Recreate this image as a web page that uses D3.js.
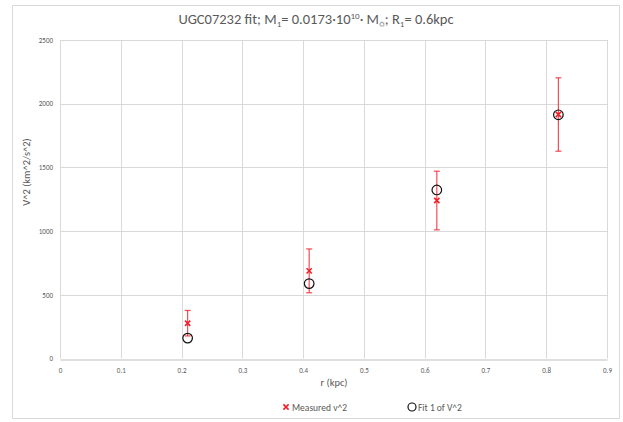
<!DOCTYPE html>
<html><head><meta charset="utf-8">
<script src="https://cdn.jsdelivr.net/npm/d3@7"></script>
<style>body{margin:0;background:#fff;} text{font-family:Calibri,Carlito,Lato,"Open Sans",sans-serif;}</style>
</head><body><svg id="c" width="623" height="422"></svg>
<script>
const radii = [0.21, 0.41, 0.62, 0.82];
const measured = [277, 688, 1240, 1915];
const measuredErr = [100, 172, 230, 288];
const fit = [160, 588, 1323, 1913];
const xTicks = [0, 0.1, 0.2, 0.3, 0.4, 0.5, 0.6, 0.7, 0.8, 0.9];
const yTicks = [0, 500, 1000, 1500, 2000, 2500];

const svg = d3.select("#c");
svg.append("rect").attr("x", 12.5).attr("y", 5.5).attr("width", 607).attr("height", 413)
  .attr("fill", "#fff").attr("stroke", "#d9d9d9");

const x = d3.scaleLinear().domain([0, 0.9]).range([60, 607]);
const y = d3.scaleLinear().domain([0, 2500]).range([358.5, 40]);

// gridlines
svg.append("g").selectAll("line").data(xTicks).join("line")
  .attr("x1", d => Math.round(x(d)) + 0.5).attr("x2", d => Math.round(x(d)) + 0.5)
  .attr("y1", y(2500)).attr("y2", y(0)).attr("stroke", "#d9d9d9");
svg.append("g").selectAll("line").data(yTicks.filter(d => d > 0)).join("line")
  .attr("x1", x(0)).attr("x2", x(0.9))
  .attr("y1", d => Math.round(y(d)) + 0.5).attr("y2", d => Math.round(y(d)) + 0.5).attr("stroke", "#d9d9d9");

const xAxis = svg.append("g").attr("transform", `translate(0,${Math.round(y(0)) + 0.5})`)
  .call(d3.axisBottom(x).tickValues(xTicks).tickSize(0).tickPadding(9).tickFormat(d => d3.format("")(d)));
xAxis.select(".domain").attr("stroke", "#bfbfbf");
xAxis.selectAll("text").attr("fill", "#595959").attr("font-size", 7);

const yAxis = svg.append("g").attr("transform", `translate(${x(0)},0)`)
  .call(d3.axisLeft(y).tickValues(yTicks).tickSize(0).tickPadding(7).tickFormat(d3.format("d")));
yAxis.select(".domain").remove();
yAxis.selectAll("text").attr("fill", "#595959").attr("font-size", 7);

// title
const title = svg.append("text").attr("x", 316).attr("y", 24).attr("text-anchor", "middle")
  .attr("fill", "#595959").attr("font-size", 14.5);
title.append("tspan").text("UGC07232 fit; M");
title.append("tspan").attr("font-size", 9).attr("dy", 3).text("1");
title.append("tspan").attr("dy", -3).text("= 0.0173·10");
title.append("tspan").attr("font-size", 9).attr("dy", -5).text("10");
title.append("tspan").attr("dy", 5).text("· M");
title.append("tspan").attr("font-size", 8).attr("dy", 3).text("☼");
title.append("tspan").attr("dy", -3).text("; R");
title.append("tspan").attr("font-size", 9).attr("dy", 3).text("1");
title.append("tspan").attr("dy", -3).text("= 0.6kpc");

// axis titles
svg.append("text").attr("x", 334).attr("y", 386).attr("text-anchor", "middle")
  .attr("fill", "#595959").attr("font-size", 10.5).text("r (kpc)");
svg.append("text").attr("transform", "translate(30,172) rotate(-90)").attr("text-anchor", "middle")
  .attr("fill", "#595959").attr("font-size", 10.5).text("V^2 (km^2/s^2)");

const red = "#f0202a";
// error bars
const eb = svg.append("g").attr("stroke", red).attr("stroke-opacity", 0.8).attr("stroke-width", 1.2);
radii.forEach((r, i) => {
  const cx = x(r);
  const y1 = y(measured[i] + measuredErr[i]), y2 = y(measured[i] - measuredErr[i]);
  eb.append("line").attr("x1", cx).attr("x2", cx).attr("y1", y1).attr("y2", y2);
  eb.append("line").attr("x1", cx - 3).attr("x2", cx + 3).attr("y1", y1).attr("y2", y1);
  eb.append("line").attr("x1", cx - 3).attr("x2", cx + 3).attr("y1", y2).attr("y2", y2);
});

function cross(g, cx, cy, s) {
  g.append("path").attr("d", `M${cx - s},${cy - s}L${cx + s},${cy + s}M${cx - s},${cy + s}L${cx + s},${cy - s}`)
    .attr("stroke", red).attr("stroke-width", 1.6).attr("fill", "none");
}
const mg = svg.append("g");
radii.forEach((r, i) => cross(mg, x(r), y(measured[i]), 2.6));

svg.append("g").selectAll("circle").data(radii).join("circle")
  .attr("cx", d => x(d)).attr("cy", (d, i) => y(fit[i])).attr("r", 4.8)
  .attr("fill", "none").attr("stroke", "#111").attr("stroke-width", 1.2);

// legend
const lg = svg.append("g");
cross(lg, 286, 407, 2.6);
lg.append("text").attr("x", 292).attr("y", 410.5).attr("fill", "#595959").attr("font-size", 9.5).text("Measured v^2");
lg.append("circle").attr("cx", 412).attr("cy", 407).attr("r", 4).attr("fill", "none").attr("stroke", "#111").attr("stroke-width", 1.2);
lg.append("text").attr("x", 418).attr("y", 410.5).attr("fill", "#595959").attr("font-size", 9.5).text("Fit 1 of V^2");
</script></body></html>
